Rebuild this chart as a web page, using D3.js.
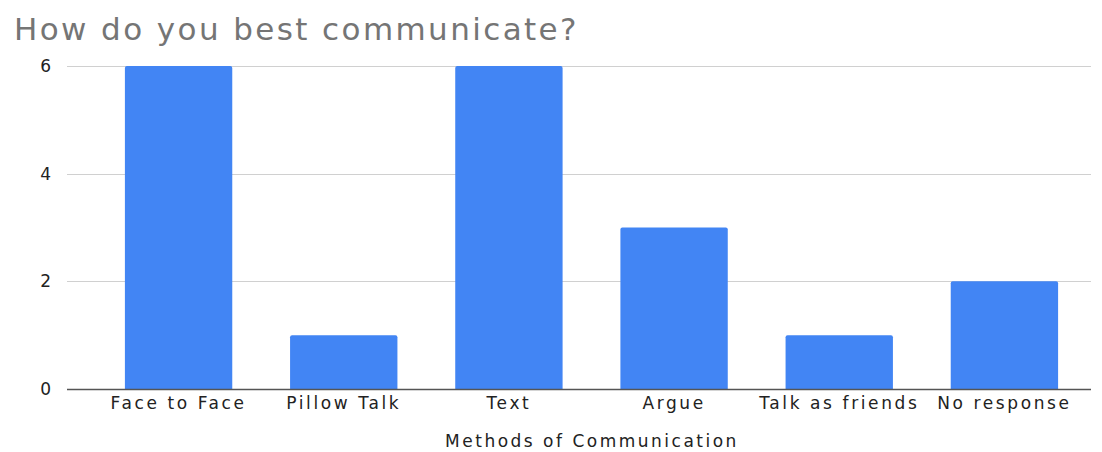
<!DOCTYPE html>
<html>
<head>
<meta charset="utf-8">
<script src="https://cdn.jsdelivr.net/npm/d3@7"></script>
<style>
  html, body { margin: 0; padding: 0; background: #fff; }
  svg { display: block; }
  text { font-family: "Comic Sans MS", "DejaVu Sans", sans-serif; }
</style>
</head>
<body>
<svg id="chart" width="1102" height="452"></svg>
<script>
// Survey answers: how people best communicate
const categories = ["Face to Face", "Pillow Talk", "Text", "Argue", "Talk as friends", "No response"];
const counts = [6, 1, 6, 3, 1, 2];
const yTicks = [0, 2, 4, 6];

const svg = d3.select("#chart");
const fontStack = "'Comic Sans MS', 'DejaVu Sans', sans-serif";

const gridLeft = 67, gridRight = 1091;
const plotTop = 66, plotBottom = 389;

const x = d3.scaleBand()
  .domain(categories)
  .range([96, 1087])
  .paddingInner(0.35)
  .paddingOuter(0.175);

const y = d3.scaleLinear()
  .domain([0, 6])
  .range([plotBottom, plotTop]);

// Title
svg.append("text")
  .attr("x", 14)
  .attr("y", 40)
  .attr("fill", "#757575")
  .attr("font-size", 31)
  .attr("letter-spacing", 2.4)
  .text("How do you best communicate?");

// Horizontal gridlines
svg.append("g")
  .selectAll("line")
  .data(yTicks.filter(d => d !== 0))
  .join("line")
  .attr("x1", gridLeft)
  .attr("x2", gridRight)
  .attr("y1", d => Math.round(y(d)) + 0.5)
  .attr("y2", d => Math.round(y(d)) + 0.5)
  .attr("stroke", "#d0d0d0")
  .attr("stroke-width", 1);

// Y axis labels
const yAxis = d3.axisLeft(y).tickValues(yTicks).tickFormat(d3.format("d")).tickSize(0).tickPadding(0);
const gy = svg.append("g")
  .attr("transform", "translate(51,0)")
  .call(yAxis);
gy.select(".domain").remove();
gy.selectAll("text")
  .attr("font-size", 17)
  .attr("fill", "#222")
  .attr("font-family", fontStack);

// Bars with slightly rounded tops
const r = 2;
svg.append("g")
  .selectAll("path")
  .data(categories.map((c, i) => ({ c, v: counts[i] })))
  .join("path")
  .attr("fill", "#4285F4")
  .attr("d", d => {
    const x0 = x(d.c), x1 = x0 + x.bandwidth();
    const y0 = y(d.v), y1 = y(0);
    return `M${x0},${y1}V${y0 + r}Q${x0},${y0} ${x0 + r},${y0}H${x1 - r}Q${x1},${y0} ${x1},${y0 + r}V${y1}Z`;
  });

// Baseline
svg.append("line")
  .attr("x1", gridLeft)
  .attr("x2", gridRight)
  .attr("y1", y(0) + 0.5)
  .attr("y2", y(0) + 0.5)
  .attr("stroke", "#555")
  .attr("stroke-width", 1.5);

// X axis category labels
const xAxis = d3.axisBottom(x).tickSize(0).tickPadding(0);
const gx = svg.append("g")
  .attr("transform", `translate(0,${y(0) + 6})`)
  .call(xAxis);
gx.select(".domain").remove();
gx.selectAll("text")
  .attr("font-size", 17)
  .attr("letter-spacing", 2.6)
  .attr("fill", "#222")
  .attr("dy", "0.85em")
  .attr("font-family", fontStack);

// X axis title
svg.append("text")
  .attr("x", 592)
  .attr("y", 447)
  .attr("text-anchor", "middle")
  .attr("font-size", 17)
  .attr("letter-spacing", 2.5)
  .attr("fill", "#222")
  .text("Methods of Communication");
</script>
</body>
</html>
